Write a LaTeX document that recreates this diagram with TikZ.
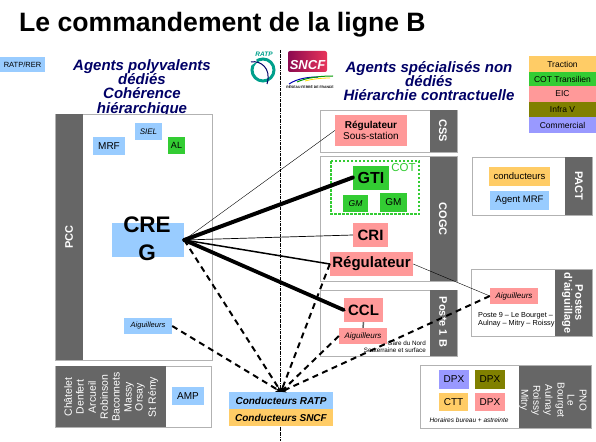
\documentclass[tikz,border=0pt]{standalone}
\usepackage{fontspec}
\setmainfont{Liberation Sans}
\usetikzlibrary{arrows.meta}
\newcommand{\fs}[1]{\fontsize{#1}{#1}\selectfont}
\definecolor{barGray}{HTML}{666666}
\definecolor{frameGray}{HTML}{B2B2B2}
\definecolor{headBlue}{HTML}{000066}
\definecolor{ratpBlue}{HTML}{99CCFF}
\definecolor{eicPink}{HTML}{FF9999}
\definecolor{cotGreen}{HTML}{33CC33}
\definecolor{tracOrange}{HTML}{FFCC66}
\definecolor{infraOlive}{HTML}{808000}
\definecolor{commPurple}{HTML}{9999FF}
\definecolor{ratpTeal}{HTML}{00A08C}
\definecolor{sncfLeft}{HTML}{8C0A50}
\definecolor{sncfRight}{HTML}{E8345A}
\tikzset{
  colbox/.style={inner sep=0pt,align=center,font=\fs{10}},
  frameline/.style={draw=frameGray,line width=0.8pt,fill=white},
  barlabel/.style={text=white,font=\bfseries\fs{11},align=center},
  headline/.style={text=headBlue,font=\bfseries\itshape\fs{15},align=center},
  solidlink/.style={line cap=round},
  dashlink/.style={-{Stealth[length=5pt,width=6pt]},line width=2pt,dash pattern=on 6pt off 4.5pt}
}
\begin{document}
\begin{tikzpicture}[x=1pt,y=-1pt]
\useasboundingbox (0,0) rectangle (596,441);
\node[anchor=base west,inner sep=0pt,font=\bfseries\fs{26.6}] (title) at (19,32) {Le commandement de la ligne B};
\node[colbox,fill=ratpBlue,minimum width=45pt,minimum height=15pt,font=\fs{7.5}] (ratprer) at (22.5,64.5) {RATP/RER};
% left and right headers
\node[headline] (headleft) at (142,88) {Agents polyvalents\\[-0.9pt]dédiés\\[-0.9pt]Cohérence\\[-0.9pt]hiérarchique};
\node[headline] (headright) at (429,81) {Agents spécialisés non\\[-0.9pt]dédiés\\[-0.9pt]Hiérarchie contractuelle};
\draw[densely dash dot,line width=0.6pt] (280.5,50) -- (280.5,441);
% logos
\draw[ratpTeal,line width=3pt] (263,70) circle (11);
\draw[white,line width=3.5pt] (250,64) -- (256,60);
\draw[headBlue,line width=1pt] (251,62) .. controls (260,60) and (272,68) .. (267,84);
\node[text=ratpTeal,font=\bfseries\itshape\fs{6.5},inner sep=0pt] (ratplogo) at (264,54) {RATP};
\shade[left color=sncfLeft,right color=sncfRight,rounded corners=2pt] (288,51) rectangle (327,72);
\node[text=white,font=\bfseries\itshape\fs{13},inner sep=0pt] (sncflogo) at (307.5,65) {SNCF};
\draw[blue!70!black,line width=1pt] (289,84) .. controls (298,78) and (310,77) .. (318,77);
\draw[green!60!black,line width=1pt] (297,82) .. controls (306,78) and (318,76) .. (333,76);
\draw[yellow!80!orange,line width=0.8pt] (305,81) .. controls (312,79) and (322,78) .. (330,78);
\node[font=\bfseries\fs{3.4},inner sep=0pt] (rfflogo) at (310,87) {RÉSEAU FERRÉ DE FRANCE};
% legend
\node[colbox,fill=tracOrange,minimum width=67pt,minimum height=16pt,font=\fs{8.5}] (traction) at (562.5,64) {Traction};
\node[colbox,fill=cotGreen,minimum width=67pt,minimum height=14pt,font=\fs{8.5}] (transilien) at (562.5,79) {COT Transilien};
\node[colbox,fill=eicPink,minimum width=67pt,minimum height=16pt,font=\fs{8.5}] (eic) at (562.5,94) {EIC};
\node[colbox,fill=infraOlive,minimum width=67pt,minimum height=15pt,font=\fs{8.5}] (infra) at (562.5,109.5) {Infra V};
\node[colbox,fill=commPurple,minimum width=67pt,minimum height=16pt,font=\fs{8.5}] (commercial) at (562.5,125) {Commercial};
% frames with their grey bars
\draw[frameline] (55.5,114) rectangle (212,360);
\fill[barGray] (56,114) rectangle (83,360);
\node[barlabel,rotate=90] (pcc) at (69,237) {PCC};
\draw[frameline] (55.5,366) rectangle (211,427);
\fill[barGray] (55.5,366) rectangle (166,427);
\foreach \name/\xpos [count=\i] in {Châtelet/68,Denfert/80,Arcueil/92,Robinson/104,Baconnets/116,Massy/129,Orsay/140,St Rémy/153}
  \node[text=white,font=\fs{10.5},rotate=90,inner sep=0pt] (gare\i) at (\xpos,397) {\name};
\draw[frameline] (320,110) rectangle (457,152);
\fill[barGray] (430,110) rectangle (457,152);
\node[barlabel,rotate=-90] (css) at (443,131) {CSS};
\draw[frameline] (320,156.5) rectangle (457,281);
\fill[barGray] (430,156.5) rectangle (457,281);
\node[barlabel,rotate=-90] (cogc) at (443,219) {COGC};
\draw[frameline] (320,290) rectangle (457,356);
\fill[barGray] (430,290) rectangle (457,356);
\node[barlabel,rotate=-90] (poste) at (443,322) {Poste 1 B};
\draw[frameline] (472,157) rectangle (592,215);
\fill[barGray] (565,157) rectangle (592,215);
\node[barlabel,rotate=-90] (pact) at (579,186) {PACT};
\draw[frameline] (471.5,269.5) rectangle (592,336);
\fill[barGray] (555,269.5) rectangle (592,336);
\node[barlabel,rotate=-90] (postes) at (572.5,303) {Postes\\d'aiguillage};
\draw[frameline] (420.5,365.5) rectangle (591,428);
\fill[barGray] (519,365.5) rectangle (591,428);
\foreach \name/\xpos [count=\i] in {PNO/583,Le/571,Bourget/560,Aulnay/548,Roissy/536,Mitry/524}
  \node[text=white,font=\fs{10},rotate=-90,inner sep=0pt] (pno\i) at (\xpos,400) {\name};
\draw[cotGreen,line width=1.3pt,dash pattern=on 2.5pt off 1.5pt] (331,161) rectangle (419,214);
% boxes
\node[colbox,fill=ratpBlue,minimum width=32pt,minimum height=18pt] (mrf) at (109,146) {MRF};
\node[colbox,fill=ratpBlue,minimum width=27pt,minimum height=17pt,font=\itshape\fs{8}] (siel) at (148.5,131.5) {SIEL};
\node[colbox,fill=cotGreen,minimum width=17pt,minimum height=17pt,font=\fs{9}] (al) at (176.5,145.5) {AL};
\node[colbox,fill=ratpBlue,minimum width=72pt,minimum height=34pt] (creg) at (148,240) {};
\node[inner sep=0pt,align=center,font=\bfseries\fs{22.5}] (cregtext) at (147,239) {CRE\\[5.5pt]G};
\node[colbox,fill=ratpBlue,minimum width=48pt,minimum height=16pt,font=\itshape\fs{7.5}] (aigpcc) at (148,326) {Aiguilleurs};
\node[colbox,fill=ratpBlue,minimum width=32pt,minimum height=18pt] (amp) at (188,396) {AMP};
\node[colbox,fill=ratpBlue,minimum width=104pt,minimum height=17pt,font=\bfseries\itshape\fs{10}] (condratp) at (281,400.5) {Conducteurs RATP};
\node[colbox,fill=tracOrange,minimum width=104pt,minimum height=17pt,font=\bfseries\itshape\fs{10}] (condsncf) at (281,417.5) {Conducteurs SNCF};
\node[colbox,fill=eicPink,minimum width=72pt,minimum height=31pt,font=\fs{10}] (regsous) at (371,130.5) {\textbf{Régulateur}\\[1pt]Sous-station};
\node[colbox,fill=cotGreen,minimum width=36pt,minimum height=24pt,font=\bfseries\fs{16}] (gti) at (371,177.5) {GTI};
\node[text=cotGreen,inner sep=0pt,font=\fs{11.5}] (cot) at (403.5,168) {COT};
\node[colbox,fill=cotGreen,minimum width=25pt,minimum height=17pt,font=\itshape\fs{8.5}] (gmleft) at (355.5,203.5) {GM};
\node[colbox,fill=cotGreen,minimum width=27pt,minimum height=19pt,font=\fs{10}] (gmright) at (393.5,202.5) {GM};
\node[colbox,fill=eicPink,minimum width=35pt,minimum height=24pt,font=\bfseries\fs{15}] (cri) at (370.5,235) {CRI};
\node[colbox,fill=eicPink,minimum width=83pt,minimum height=24pt,font=\bfseries\fs{15}] (regulateur) at (371.5,264) {Régulateur};
\node[colbox,fill=eicPink,minimum width=39pt,minimum height=24pt,font=\bfseries\fs{15}] (ccl) at (363.5,310) {CCL};
\node[colbox,fill=eicPink,minimum width=48pt,minimum height=16pt,font=\itshape\fs{8}] (aigccl) at (363,336) {Aiguilleurs};
\node[anchor=east,inner sep=0pt,align=right,font=\fs{6.3}] (gare) at (426,347) {Gare du Nord\\[0.6pt]Souterraine et surface};
\node[colbox,fill=tracOrange,minimum width=61pt,minimum height=19pt,font=\fs{9.5}] (conducteurs) at (519.5,176.5) {conducteurs};
\node[colbox,fill=ratpBlue,minimum width=59pt,minimum height=19pt,font=\fs{9.5}] (agentmrf) at (519.5,200.5) {Agent MRF};
\node[colbox,fill=eicPink,minimum width=48pt,minimum height=16pt,font=\itshape\fs{8}] (aigposte) at (514,296) {Aiguilleurs};
\node[anchor=west,inner sep=0pt,align=left,font=\fs{7.3}] (postetext) at (478,319.5) {Poste 9 -- Le Bourget --\\[0.8pt]Aulnay -- Mitry -- Roissy};
\node[colbox,fill=commPurple,minimum width=30pt,minimum height=19pt] (dpxa) at (454,379.5) {DPX};
\node[colbox,fill=infraOlive,minimum width=30pt,minimum height=19pt] (dpxb) at (490,379.5) {DPX};
\node[colbox,fill=tracOrange,minimum width=29pt,minimum height=18pt] (ctt) at (453.5,402) {CTT};
\node[colbox,fill=eicPink,minimum width=30pt,minimum height=18pt] (dpxc) at (490,402) {DPX};
\node[inner sep=0pt,font=\itshape\fs{6.5}] (horaires) at (469,420) {Horaires bureau + astreinte};
% connectors
\draw[solidlink,line width=0.4pt] (creg.east) -- (regsous.west);
\draw[solidlink,line width=4pt] (creg.east) -- (gti.west);
\draw[solidlink,line width=0.7pt] (creg.east) -- (cri.west);
\draw[solidlink,line width=1.5pt] (creg.east) -- (regulateur.west);
\draw[solidlink,line width=3.8pt] (creg.east) -- (ccl.west);
\draw[barGray,line width=1.5pt] (ccl.south) -- (aigccl.north);
\draw[line width=0.4pt] (regulateur.east) -- (aigposte.west);
\draw[dashlink] (creg.east) -- (condratp.north);
\draw[dashlink] (aigpcc.east) -- (condratp.north);
\draw[dashlink] (regulateur.west) -- (condratp.north);
\draw[dashlink] (aigccl.west) -- (condratp.north);
\draw[dashlink] (aigposte.west) -- (condratp.north);
\end{tikzpicture}
\end{document}
